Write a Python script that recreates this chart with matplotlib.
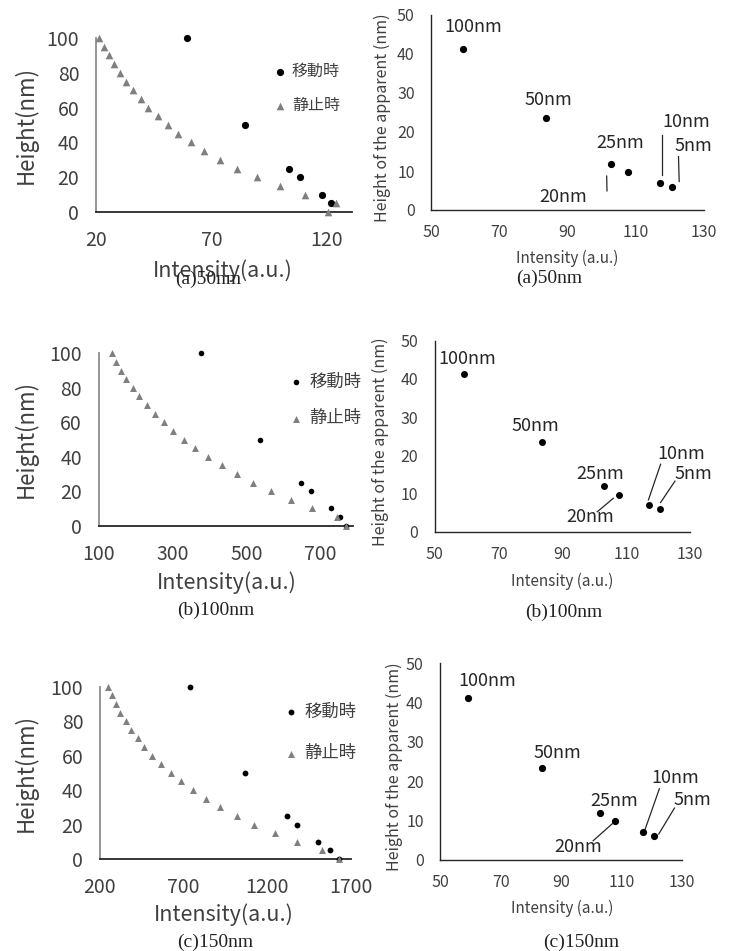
import matplotlib
matplotlib.use('Agg')
import matplotlib.pyplot as plt

plt.rcParams['font.family'] = ['Noto Sans CJK JP', 'DejaVu Sans']

# ---- data ----
# left column: height vs intensity, moving (移動時) and static (静止時)
moving_heights = [100, 50, 25, 20, 10, 5]
moving_a = [59.6, 84.5, 103.9, 108.4, 118.1, 121.7]
moving_heights_bc = [100, 50, 25, 20, 10, 5, 0]
moving_b = [377, 536, 649, 676, 730, 755, 770]
moving_c = [740, 1068, 1321, 1381, 1506, 1576, 1632]

static_heights = [100, 95, 90, 85, 80, 75, 70, 65, 60, 55, 50,
                  45, 40, 35, 30, 25, 20, 15, 10, 5, 0]
static_a = [21.4, 23.6, 25.7, 28.0, 30.4, 32.9, 35.9, 39.3, 42.6, 46.7, 51.1,
            55.5, 61.1, 66.8, 73.6, 81.0, 89.8, 99.6, 110.7, 124.2, 120.7]
static_b = [135, 147, 160, 174, 192, 210, 230, 252, 277, 302, 332,
            362, 397, 434, 475, 519, 567, 620, 678, 745, 770]
static_c = [246, 272, 294, 320, 354, 387, 426, 463, 513, 563, 623,
            685, 755, 833, 918, 1020, 1123, 1247, 1381, 1529, 1632]

# right column: apparent height vs intensity (same data in all three)
sizes = ['100nm', '50nm', '25nm', '20nm', '10nm', '5nm']
intensity = [59.2, 83.7, 102.9, 107.8, 117.2, 120.6]
apparent = [41.2, 23.5, 11.9, 9.8, 7.0, 6.0]

captions = ['(a)50nm', '(b)100nm', '(c)150nm']

W, H = 734, 951
fig = plt.figure(figsize=(W / 100, H / 100), dpi=100)


def px_axes(left, top, right, bottom):
    return fig.add_axes([left / W, 1 - bottom / H, (right - left) / W, (bottom - top) / H])


def fx(x):
    return x / W


def fy(y):
    return 1 - y / H


# ---- left column layout ----
left_panels = [
    dict(box=(96, 38, 352, 212), xlim=(20, 131), xt=[20, 70, 120],
         mx=moving_a, mh=moving_heights, sx=static_a, ms=5.2, ts=5.5, lfs=11.5,
         xl=(223, 271), cap=(208, 279), leg=(276, 63), legsp=1.05),
    dict(box=(98.7, 353.3, 353.3, 525.7), xlim=(100, 790), xt=[100, 300, 500, 700],
         mx=moving_b, mh=moving_heights_bc, sx=static_b, ms=4.0, ts=5.0, lfs=12.5,
         xl=(227, 583), cap=(216, 610), leg=(292, 373), legsp=1.05),
    dict(box=(100, 686.7, 350.7, 859), xlim=(200, 1700), xt=[200, 700, 1200, 1700],
         mx=moving_c, mh=moving_heights_bc, sx=static_c, ms=4.2, ts=5.0, lfs=12.5,
         xl=(224, 915), cap=(215, 942), leg=(287, 703), legsp=1.35),
]

for i, p in enumerate(left_panels):
    ax = px_axes(*p['box'])
    ax.scatter(p['mx'], p['mh'], s=p['ms'] ** 2, color='black', zorder=3,
               clip_on=False, label='移動時', linewidths=0)
    ax.scatter(p['sx'], static_heights, s=p['ts'] ** 2, marker='^', color='#7f7f7f',
               zorder=4, clip_on=False, label='静止時', linewidths=0)
    ax.set_xlim(*p['xlim'])
    ax.set_ylim(0, 100)
    ax.set_xticks(p['xt'])
    ax.set_yticks([0, 20, 40, 60, 80, 100])
    for s in ['top', 'right']:
        ax.spines[s].set_visible(False)
    ax.spines['left'].set_color('#8c8c8c')
    ax.spines['left'].set_linewidth(1.3)
    ax.spines['bottom'].set_color('#262626')
    ax.spines['bottom'].set_linewidth(1.3)
    ax.tick_params(length=0, labelsize=14, labelcolor='#404040')
    ax.tick_params(axis='x', pad=13)
    ax.tick_params(axis='y', pad=12)
    ax.set_xlabel('Intensity(a.u.)', fontsize=15.5, color='#404040')
    ax.xaxis.set_label_coords(fx(p['xl'][0]), fy(p['xl'][1]), transform=fig.transFigure)
    ax.xaxis.label.set_va('center')
    ax.set_ylabel('Height(nm)', fontsize=16, color='#404040')
    ax.yaxis.set_label_coords(fx(26), fy((p['box'][1] + p['box'][3]) / 2),
                              transform=fig.transFigure)
    ax.yaxis.label.set_va('center')
    leg = ax.legend(loc='upper left', bbox_to_anchor=(fx(p['leg'][0]), fy(p['leg'][1])),
                    bbox_transform=fig.transFigure, frameon=False, fontsize=p['lfs'],
                    handlelength=0.5, handletextpad=0.5, borderpad=0, borderaxespad=0,
                    labelspacing=p['legsp'], markerscale=1.0)
    for t in leg.get_texts():
        t.set_color('#404040')
    fig.text(fx(p['cap'][0]), fy(p['cap'][1]), captions[i], ha='center', va='center',
             fontsize=14, family='Liberation Serif', color='#222222')

# ---- right column layout ----
right_panels = [
    dict(box=(431.3, 15, 703.7, 210), ms=5.2, xl=(567, 258), yl=382, cap=(549, 278),
         lab=[(62.3, 47.0), (84.5, 28.2), (105.6, 17.1), (88.7, 3.4), (125.0, 22.6), (126.9, 16.5)],
         lines={3: ((101.5, 8.7), (101.6, 4.9)), 4: ((117.8, 19.2), (117.8, 9.0)),
                5: ((122.6, 13.7), (122.8, 7.3))}),
    dict(box=(434.7, 340.7, 690.3, 532), ms=5.0, xl=(562, 581), yl=380, cap=(564, 612),
         lab=[(60.1, 45.2), (81.4, 27.7), (101.8, 15.1), (98.8, 3.8), (127.3, 20.3), (130.9, 15.1)],
         lines={3: ((100.9, 5.3), (105.9, 8.8)), 4: ((120.7, 17.7), (116.9, 8.4)),
                5: ((125.2, 13.3), (120.7, 7.7))}),
    dict(box=(440.3, 663.3, 682, 860), ms=5.2, xl=(562, 908), yl=394, cap=(581, 942),
         lab=[(65.5, 45.4), (88.6, 27.1), (107.4, 15.1), (95.5, 3.2), (127.8, 20.8), (133.3, 15.3)],
         lines={3: ((100.6, 4.9), (106.9, 9.2)), 4: ((122.5, 18.1), (117.7, 7.6)),
                5: ((127.5, 13.2), (122.3, 6.6))}),
]

for i, p in enumerate(right_panels):
    ax = px_axes(*p['box'])
    ax.scatter(intensity, apparent, s=p['ms'] ** 2, color='black', zorder=3,
               clip_on=False, linewidths=0)
    ax.set_xlim(50, 130)
    ax.set_ylim(0, 50)
    ax.set_xticks([50, 70, 90, 110, 130])
    ax.set_yticks([0, 10, 20, 30, 40, 50])
    for s in ['top', 'right']:
        ax.spines[s].set_visible(False)
    for s in ['left', 'bottom']:
        ax.spines[s].set_color('#262626')
        ax.spines[s].set_linewidth(1.0)
    ax.tick_params(length=0, labelsize=11.5, labelcolor='#404040')
    ax.tick_params(axis='x', pad=10)
    ax.tick_params(axis='y', pad=12)
    for k, name in enumerate(sizes):
        ax.text(p['lab'][k][0], p['lab'][k][1], name, ha='center', va='center',
                fontsize=13, color='#262626', clip_on=False)
    for k, (a, b) in p['lines'].items():
        ax.plot([a[0], b[0]], [a[1], b[1]], color='#262626', lw=0.9, clip_on=False)
    ax.set_xlabel('Intensity (a.u.)', fontsize=11, color='#404040')
    ax.xaxis.set_label_coords(fx(p['xl'][0]), fy(p['xl'][1]), transform=fig.transFigure)
    ax.xaxis.label.set_va('center')
    ax.set_ylabel('Height of the apparent (nm)', fontsize=11.5, color='#404040')
    ax.yaxis.set_label_coords(fx(p['yl']), fy((p['box'][1] + p['box'][3]) / 2 + 5),
                              transform=fig.transFigure)
    ax.yaxis.label.set_va('center')
    fig.text(fx(p['cap'][0]), fy(p['cap'][1]), captions[i], ha='center', va='center',
             fontsize=14, family='Liberation Serif', color='#222222')

fig.savefig('out.png', dpi=100)
